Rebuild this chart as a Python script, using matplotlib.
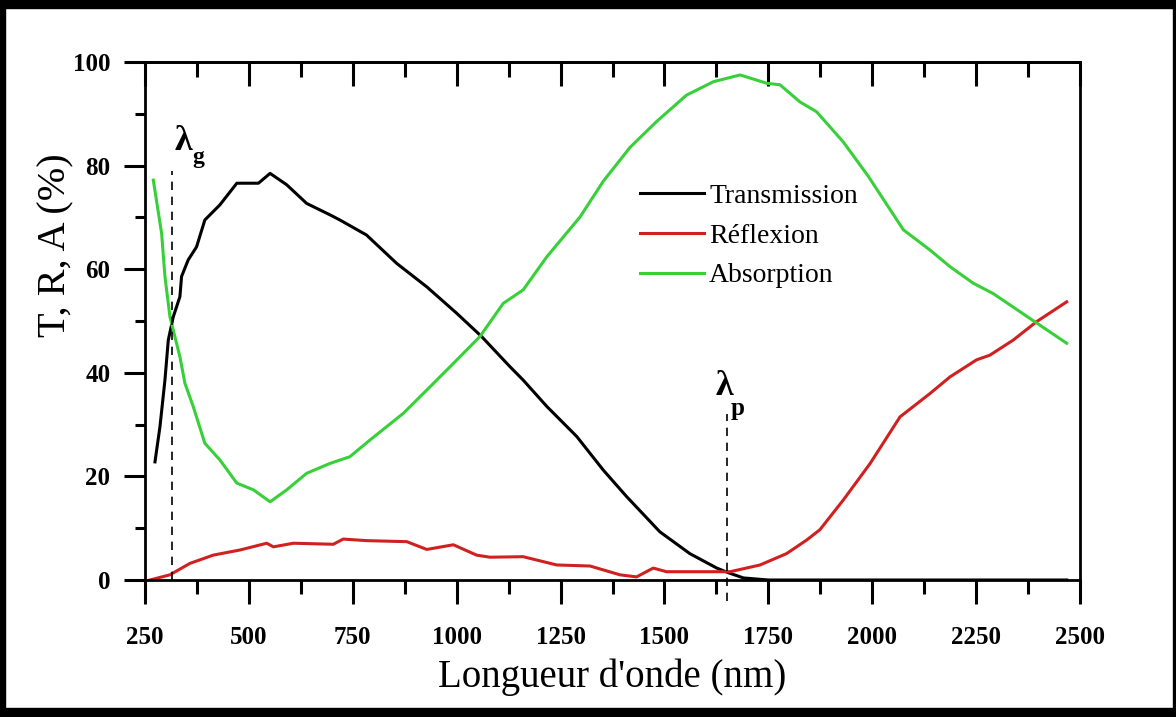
import numpy as np
import matplotlib
matplotlib.use('Agg')
import matplotlib.pyplot as plt
from matplotlib.patches import Rectangle

plt.rcParams['font.family'] = ['Liberation Serif', 'DejaVu Serif']

# transmission
nm_T = [274, 286, 298, 306, 318, 334, 338, 354, 374, 394, 430, 471, 523, 551, 591, 639,
        695, 719, 783, 856, 928, 1000, 1060, 1128, 1160, 1217, 1289, 1353, 1409, 1489,
        1561, 1626, 1654, 1690, 1750, 2000, 2200, 2468]
T = [22.8, 29.6, 38.6, 46.3, 50.8, 54.7, 58.6, 61.8, 64.3, 69.5, 72.4, 76.6, 76.6, 78.5, 76.3, 72.7,
     70.5, 69.5, 66.6, 61.1, 56.6, 51.5, 47.0, 41.2, 38.6, 33.5, 27.7, 21.2, 16.1, 9.3,
     5.1, 2.3, 1.4, 0.4, 0.0, 0.0, 0.0, 0.0]

# reflexion
nm_R = [262, 310, 358, 414, 479, 543, 559, 607, 703, 727, 783, 880, 928, 992, 1048, 1080,
        1160, 1241, 1321, 1393, 1433, 1473, 1505, 1586, 1658, 1730, 1794, 1842, 1874, 1930,
        1995, 2067, 2139, 2187, 2251, 2283, 2339, 2396, 2468]
R = [0.0, 1.0, 3.2, 4.8, 5.8, 7.1, 6.4, 7.1, 6.9, 7.9, 7.6, 7.4, 5.9, 6.8, 4.8, 4.4,
     4.5, 2.9, 2.7, 1.0, 0.6, 2.3, 1.6, 1.6, 1.6, 2.9, 5.1, 7.7, 9.7, 15.4,
     22.5, 31.5, 36.0, 39.2, 42.5, 43.4, 46.3, 49.9, 53.7]

# absorption
nm_A = [270, 290, 298, 310, 334, 346, 366, 394, 430, 471, 511, 551, 591, 639, 695, 743,
        791, 872, 936, 992, 1056, 1112, 1160, 1217, 1297, 1353, 1417, 1481, 1553, 1618,
        1682, 1746, 1778, 1826, 1866, 1930, 1990, 2075, 2139, 2187, 2243, 2291, 2396, 2468]
A = [77.2, 66.9, 58.6, 50.8, 43.1, 38.0, 33.5, 26.4, 23.2, 18.7, 17.4, 15.1, 17.4, 20.6, 22.5, 23.8,
     27.0, 32.2, 37.3, 41.8, 47.0, 53.4, 56.0, 62.4, 70.1, 77.0, 83.5, 88.5, 93.6, 96.2,
     97.5, 95.9, 95.6, 92.3, 90.4, 84.6, 78.0, 67.6, 63.7, 60.5, 57.3, 55.3, 49.6, 45.7]

lambda_g = 315
lambda_p = 1650

fig = plt.figure(figsize=(11.76, 7.17), dpi=100)
ax = fig.add_axes([145/1176, 1 - 580/717, 935/1176, 518/717])

ax.plot(nm_T, T, color='black', lw=2.2, label='Transmission')
ax.plot(nm_R, R, color='#d02020', lw=2.2, label='Réflexion')
ax.plot(nm_A, A, color='#38d038', lw=2.2, label='Absorption')

ax.plot([lambda_g, lambda_g], [0, 79], color='black', lw=1.2, ls=(0, (5, 4)))
ax.plot([lambda_p, lambda_p], [-4, 32], color='black', lw=1.2, ls=(0, (5, 4)), clip_on=False)

ax.text(322, 83, 'λ', fontsize=26, fontweight='bold')
ax.text(364, 80.5, 'g', fontsize=17, fontweight='bold')
ax.text(1622, 35.7, 'λ', fontsize=26, fontweight='bold')
ax.text(1660, 31.8, 'p', fontsize=18, fontweight='bold')

ax.set_xlim(250, 2500)
ax.set_ylim(0, 100)
ax.set_xticks(np.arange(250, 2501, 250))
ax.set_xticks(np.arange(375, 2500, 250), minor=True)
ax.set_yticks(np.arange(0, 101, 20))
ax.set_yticks(np.arange(10, 100, 20), minor=True)

for s in ax.spines.values():
    s.set_linewidth(2.0)

ax.tick_params(axis='x', which='major', direction='out', length=17, width=2.2, pad=16, labelsize=18)
ax.tick_params(axis='x', which='minor', direction='out', length=10, width=2.2)
ax.tick_params(axis='y', which='major', direction='out', length=15, width=2.2, pad=10, labelsize=18)
ax.tick_params(axis='y', which='minor', direction='out', length=7, width=2.2)
for lab in ax.get_xticklabels() + ax.get_yticklabels():
    lab.set_fontweight('bold')

top = ax.secondary_xaxis('top')
top.set_xticks(np.arange(250, 2501, 250))
top.set_xticks(np.arange(375, 2500, 250), minor=True)
top.tick_params(axis='x', which='major', direction='in', length=17, width=2.2, labeltop=False)
top.tick_params(axis='x', which='minor', direction='in', length=11, width=2.2)
top.spines['top'].set_linewidth(2.0)

ax.set_xlabel("Longueur d'onde (nm)", fontsize=28)
ax.xaxis.set_label_coords(0.5, -0.152)
ax.set_ylabel('T, R, A (%)', fontsize=29)
ax.yaxis.set_label_coords(-0.076, 0.647)

ax.legend(loc='upper left', bbox_to_anchor=(0.529, 0.766), frameon=False, fontsize=20,
          borderpad=0, borderaxespad=0, handlelength=2.3, handletextpad=0.2, labelspacing=0.52)

# black frame around the picture
fig.patches.append(Rectangle((0, 0), 1, 9/717, transform=fig.transFigure, color='black'))
fig.patches.append(Rectangle((0, 1 - 8/717), 1, 8/717, transform=fig.transFigure, color='black'))
fig.patches.append(Rectangle((0, 0), 5/1176, 1, transform=fig.transFigure, color='black'))
fig.patches.append(Rectangle((1 - 3/1176, 0), 3/1176, 1, transform=fig.transFigure, color='black'))

fig.savefig('out.png', dpi=100)
